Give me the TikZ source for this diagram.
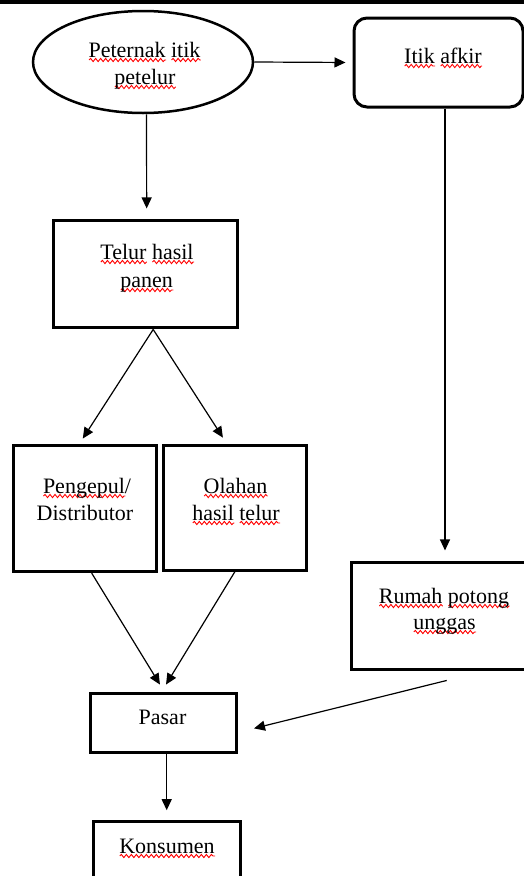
\documentclass[tikz,border=0pt]{standalone}
\usepackage{fontspec}
\setmainfont{Liberation Serif}
\usetikzlibrary{arrows.meta,shapes.geometric,decorations.pathmorphing}
\newlength\wavelen
\newcommand\sqw[1]{\settowidth\wavelen{#1}\rlap{\tikz[baseline=0pt,x=1pt,y=1pt]\draw[red,line width=0.9pt,decorate,decoration={snake,amplitude=1.6pt,segment length=5pt}] (0pt,-3pt) -- (\the\wavelen,-3pt);}#1}
\tikzset{
  box/.style={draw=black,line width=3pt,rectangle,inner sep=0pt},
  txt/.style={anchor=base,inner sep=0pt,font=\fontsize{22}{26}\selectfont},
  arr/.style={draw=black,line width=1.2pt,-{Triangle[length=11pt,width=10pt]}},
}
\begin{document}
\begin{tikzpicture}[x=1pt,y=-1pt]
\useasboundingbox (0,0) rectangle (524,876);
\fill[white] (0,0) rectangle (524,876);
\clip (0,0) rectangle (524,876);
% top rule
\draw[line width=4pt] (0,2) -- (530,2);
% shapes
\node[draw=black,line width=2.5pt,ellipse,inner sep=0pt,minimum width=220pt,minimum height=102pt] (ell) at (143,62) {};
\node[box,rounded corners=13pt,minimum width=169pt,minimum height=89pt] (afk) at (438.5,62.5) {};
\node[box,minimum width=183.7pt,minimum height=107.3pt] (tel) at (145.2,274.3) {};
\node[box,minimum width=143.4pt,minimum height=125.7pt] (pen) at (85,508.8) {};
\node[box,minimum width=142.7pt,minimum height=125pt] (ola) at (234.7,507.5) {};
\node[box,minimum width=184pt,minimum height=107.3pt] (rum) at (443.7,616.3) {};
\node[box,minimum width=146pt,minimum height=59.4pt] (pas) at (163,723) {};
\node[box,minimum width=146.7pt,minimum height=136.6pt] (kon) at (166.7,890) {};
% texts
\node[txt] (t1a) at (144.5,57) {\sqw{Peternak} \sqw{itik}};
\node[txt] (t1b) at (145,84) {\sqw{petelur}};
\node[txt] (t2) at (443,63) {\sqw{Itik} \sqw{afkir}};
\node[txt] (t3a) at (147,259) {\sqw{Telur} \sqw{hasil}};
\node[txt] (t3b) at (146.7,287) {\sqw{panen}};
\node[txt] (t4a) at (87,493) {\sqw{Pengepul}/};
\node[txt] (t4b) at (85,520.7) {Distributor};
\node[txt] (t5a) at (235.5,493) {\sqw{Olahan}};
\node[txt] (t5b) at (236,520) {\sqw{hasil} \sqw{telur}};
\node[txt] (t6a) at (444,603) {\sqw{Rumah} \sqw{potong}};
\node[txt] (t6b) at (444.5,629) {\sqw{unggas}};
\node[txt] (t7) at (162.5,724) {Pasar};
\node[txt] (t8) at (167,853) {\sqw{Konsumen}};
% connectors
\draw[arr,shorten >=7pt] (ell.east) -- (afk.west);
\draw[arr,shorten >=10.7pt] ([xshift=3.5pt]ell.south) -- ([xshift=1.5pt]tel.north);
\draw[arr,shorten >=7pt] ([xshift=8pt]tel.south) -- ([xshift=-6pt]pen.north);
\draw[arr,shorten >=7pt] ([xshift=8pt]tel.south) -- ([xshift=-8pt]ola.north);
\draw[arr,shorten >=10.7pt] ([xshift=6.5pt]afk.south) -- ([xshift=1.3pt]rum.north);
\draw[arr,shorten >=8.5pt] ([xshift=6.7pt]pen.south) -- ([xshift=1.4pt]pas.north);
\draw[arr,shorten >=8.5pt] ([xshift=0.3pt]ola.south) -- ([xshift=-1.4pt]pas.north);
\draw[arr,shorten >=17pt] ([xshift=3pt,yshift=-9pt]rum.south) -- ([yshift=-9.5pt]pas.east);
\draw[arr,shorten >=10pt] ([xshift=3.7pt]pas.south) -- (kon.north);
\end{tikzpicture}
\end{document}
